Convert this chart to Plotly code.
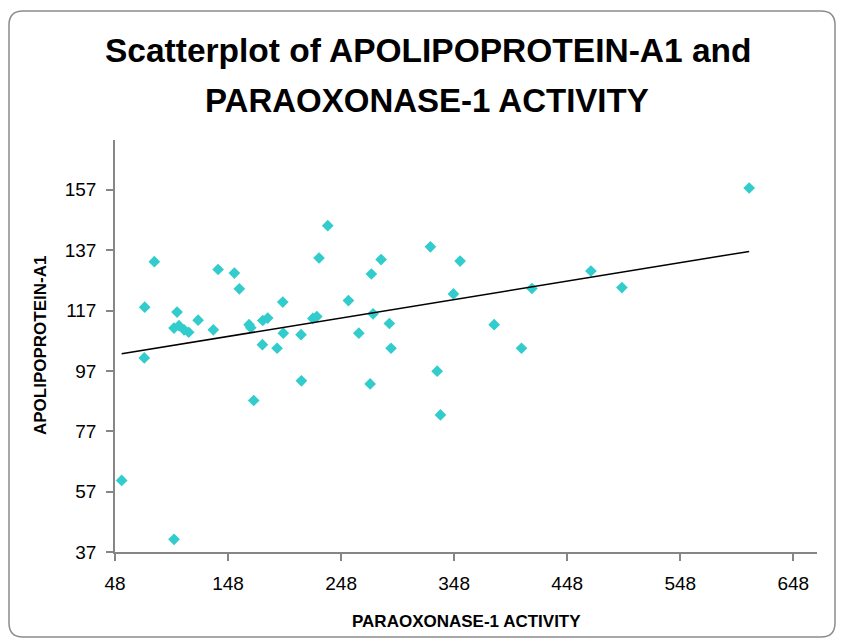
import numpy as np
import plotly.graph_objects as go

# PARAOXONASE-1 ACTIVITY (x) and APOLIPOPROTEIN-A1 (y)
pon1_activity = [
    236.2, 82.8, 139.2, 153.6, 228.5, 158.0, 74.3, 102.9, 196.4, 254.5,
    100.2, 104.6, 109.1, 113.2, 121.5, 135.0, 166.6, 168.1, 178.7, 183.1,
    73.9, 178.4, 191.4, 196.9, 212.6, 223.0, 226.5,
    327.0, 283.4, 353.3, 274.8, 347.4, 416.8, 276.3, 290.7, 263.7, 383.4,
    292.2, 407.6, 333.0,
    609.0, 469.0, 496.4,
    170.7, 212.9, 53.9, 100.2,
    273.7, 335.9,
]
apo_a1 = [
    145.1, 133.2, 130.6, 129.4, 134.4, 124.2, 118.1, 116.5, 119.8, 120.3,
    111.2, 112.0, 110.6, 109.8, 113.8, 110.6, 112.3, 111.3, 113.7, 114.5,
    101.3, 105.7, 104.5, 109.5, 109.0, 114.4, 115.0,
    138.1, 133.9, 133.4, 129.1, 122.5, 124.3, 115.9, 112.7, 109.5, 112.3,
    104.5, 104.5, 96.9,
    157.6, 130.1, 124.6,
    87.2, 93.7, 60.7, 41.2,
    92.7, 82.4,
]
x_ticks = [48, 148, 248, 348, 448, 548, 648]
y_ticks = [37, 57, 77, 97, 117, 137, 157]

title_line1 = "Scatterplot of APOLIPOPROTEIN-A1 and"
title_line2 = "PARAOXONASE-1 ACTIVITY"
x_title = "PARAOXONASE-1 ACTIVITY"
y_title = "APOLIPOPROTEIN-A1"

FONT = "Liberation Sans, Arial, sans-serif"
W, H = 842, 639
L, R, T, B = 115, 25, 140, 87
PW, PH = W - L - R, H - T - B

# linear trendline (least squares)
xa = np.array(pon1_activity)
ya = np.array(apo_a1)
slope, intercept = np.polyfit(xa, ya, 1)
tx = np.array([xa.min(), xa.max()])
ty = slope * tx + intercept

fig = go.Figure()
fig.add_trace(go.Scatter(
    x=pon1_activity, y=apo_a1, mode="markers",
    marker=dict(symbol="diamond", size=9, color="#33CCCC", line=dict(width=0)),
    showlegend=False, hoverinfo="x+y",
))
fig.add_trace(go.Scatter(
    x=tx, y=ty, mode="lines", line=dict(color="black", width=1.5),
    showlegend=False, hoverinfo="skip",
))

def px(xp):
    return (xp - L) / PW

def py(yp):
    return (H - B - yp) / PH

# rounded chart border
x0, x1, y0, y1, r = 9, 835, 11, 637, 14
path = (
    f"M {px(x0 + r)} {py(y0)} L {px(x1 - r)} {py(y0)} "
    f"Q {px(x1)} {py(y0)} {px(x1)} {py(y0 + r)} "
    f"L {px(x1)} {py(y1 - r)} Q {px(x1)} {py(y1)} {px(x1 - r)} {py(y1)} "
    f"L {px(x0 + r)} {py(y1)} Q {px(x0)} {py(y1)} {px(x0)} {py(y1 - r)} "
    f"L {px(x0)} {py(y0 + r)} Q {px(x0)} {py(y0)} {px(x0 + r)} {py(y0)} Z"
)
fig.add_shape(type="path", path=path, xref="paper", yref="paper",
              line=dict(color="#8C8C8C", width=1.5), layer="below")

fig.add_annotation(text=f"<b>{title_line1}</b>", xref="paper", yref="paper",
                   x=px(428), y=py(50), xanchor="center", yanchor="middle",
                   showarrow=False, font=dict(family=FONT, size=33.5, color="black"))
fig.add_annotation(text=f"<b>{title_line2}</b>", xref="paper", yref="paper",
                   x=px(427), y=py(101), xanchor="center", yanchor="middle",
                   showarrow=False, font=dict(family=FONT, size=33, color="black"))
fig.add_annotation(text=f"<b>{x_title}</b>", xref="paper", yref="paper",
                   x=px(466), y=py(621), xanchor="center", yanchor="middle",
                   showarrow=False, font=dict(family=FONT, size=17, color="black"))
fig.add_annotation(text=f"<b>{y_title}</b>", xref="paper", yref="paper",
                   x=px(40), y=py(346), xanchor="center", yanchor="middle",
                   textangle=-90, showarrow=False,
                   font=dict(family=FONT, size=17, color="black"))

axis_common = dict(
    showgrid=False, zeroline=False, showline=True, linecolor="#868686",
    linewidth=1.5, ticks="outside", ticklen=7, tickwidth=1.5,
    tickcolor="#868686", tickfont=dict(family=FONT, size=19, color="black"),
    ticklabelstandoff=6,
)
fig.update_xaxes(range=[48, 669], tickvals=x_ticks,
                 ticktext=[str(v) for v in x_ticks], **axis_common)
fig.update_yaxes(range=[37, 173.5], tickvals=y_ticks,
                 ticktext=[str(v) for v in y_ticks], **axis_common)

fig.update_layout(
    width=W, height=H, autosize=False,
    margin=dict(l=L, r=R, t=T, b=B, pad=0),
    paper_bgcolor="white", plot_bgcolor="white",
    font=dict(family=FONT, color="black"),
)

fig.write_html("out.html", config={"displayModeBar": False},
               post_script="document.body.style.margin='0';"
                           "document.body.style.overflow='hidden';")
